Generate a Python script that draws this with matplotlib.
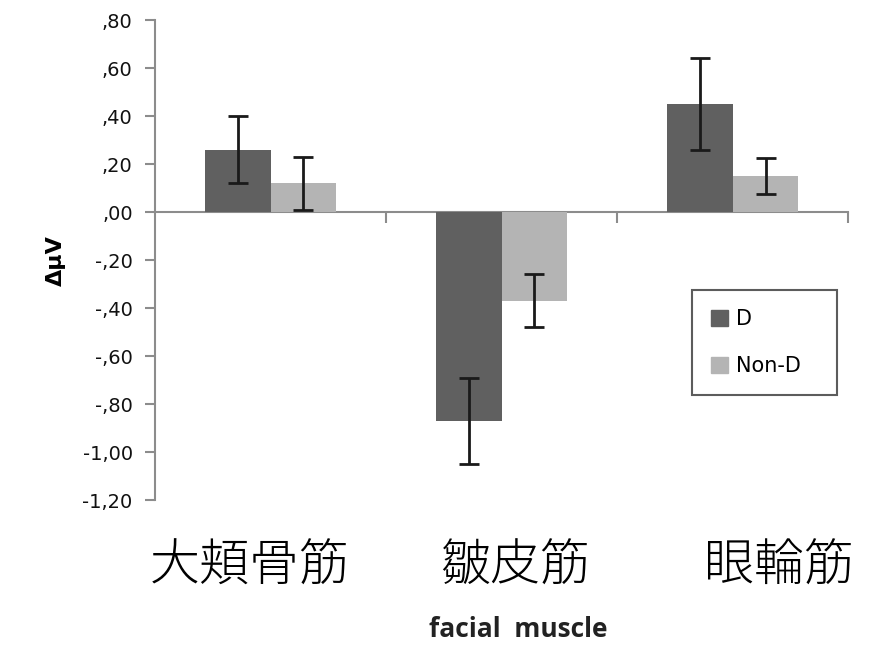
import matplotlib
matplotlib.use("Agg")
import matplotlib.pyplot as plt
from matplotlib.patches import Patch
import numpy as np

categories = ["大頬骨筋", "皺皮筋", "眼輪筋"]
series_names = ["D", "Non-D"]
d_values = [0.26, -0.87, 0.45]
d_errors = [0.14, 0.18, 0.19]
nond_values = [0.12, -0.37, 0.15]
nond_errors = [0.11, 0.11, 0.075]
y_ticks = [0.80, 0.60, 0.40, 0.20, 0.00, -0.20, -0.40, -0.60, -0.80, -1.00, -1.20]
y_tick_labels = [",80", ",60", ",40", ",20", ",00", "-,20", "-,40", "-,60", "-,80", "-1,00", "-1,20"]

col_d = "#606060"
col_nd = "#b4b4b4"
axis_col = "#8c8c8c"

fig = plt.figure(figsize=(8.87, 6.47), dpi=100)
ax = fig.add_axes([0.1747, 0.227, 0.7818, 0.742])

x = np.arange(len(categories))
w = 0.283
ax.bar(x - w / 2, d_values, w, color=col_d, zorder=2)
ax.bar(x + w / 2, nond_values, w, color=col_nd, zorder=2)
ekw = dict(fmt="none", ecolor="#1a1a1a", elinewidth=2, capsize=7, capthick=2, zorder=3)
ax.errorbar(x - w / 2, d_values, yerr=d_errors, **ekw)
ax.errorbar(x + w / 2, nond_values, yerr=nond_errors, **ekw)

ax.set_xlim(-0.5, 2.5)
ax.set_ylim(-1.2, 0.8)

# spines: left axis plus a category axis running along zero
for s in ("top", "right"):
    ax.spines[s].set_visible(False)
ax.spines["bottom"].set_position(("data", 0))
ax.spines["bottom"].set_color(axis_col)
ax.spines["bottom"].set_linewidth(1.5)
ax.spines["left"].set_color(axis_col)
ax.spines["left"].set_linewidth(1.5)
ax.spines["bottom"].set_zorder(1)

ax.set_xticks([0.5, 1.5, 2.5])
ax.set_xticklabels([])
ax.tick_params(axis="x", direction="out", length=8, width=1.5, color=axis_col)

ax.set_yticks(y_ticks)
ax.set_yticklabels(y_tick_labels, fontsize=14, family="DejaVu Sans", color="#111111")
ax.tick_params(axis="y", direction="out", length=7, width=1.5, color=axis_col, pad=9)

ax.set_ylabel("ΔμV", fontsize=16, fontweight="bold", labelpad=12)

# category names below the plot area
label_shift = [-0.09, 0.06, 0.2]
for i, name in enumerate(categories):
    ax.text(i + label_shift[i], -0.085, name, transform=ax.get_xaxis_transform(),
            ha="center", va="top", fontsize=36, fontweight="light",
            family=["Noto Sans CJK JP", "DejaVu Sans"], color="black")

fig.text(0.584, 0.006, "facial  muscle", ha="center", va="bottom", fontsize=19,
         fontweight="bold", family=["Open Sans", "DejaVu Sans"], color="#222222")

handles = [Patch(facecolor=col_d, edgecolor=col_d), Patch(facecolor=col_nd, edgecolor=col_nd)]
leg = ax.legend(handles, series_names, loc="lower left", bbox_to_anchor=(0.775, 0.219, 0.209, 0.233),
                mode="expand", fontsize=15, frameon=True, fancybox=False, edgecolor="#333333",
                handlelength=0.8, handleheight=0.8, handletextpad=0.4, labelspacing=1.3,
                borderpad=0.9, borderaxespad=0)
leg.get_frame().set_linewidth(1.5)

fig.savefig("out.png", dpi=100, facecolor="white")
